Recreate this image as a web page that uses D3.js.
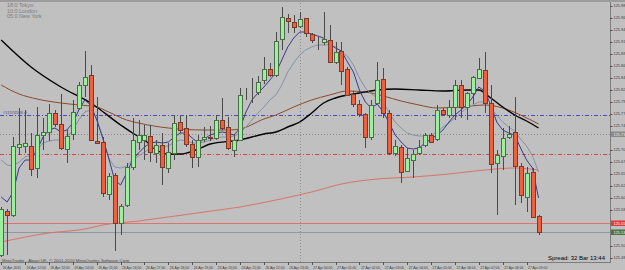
<!doctype html>
<html>
<head>
<meta charset="utf-8">
<script src="https://d3js.org/d3.v7.min.js"></script>
<style>
  body { margin: 0; background: #c0c0c0; }
  svg { display: block; font-family: "Liberation Sans", Arial, sans-serif; }
</style>
</head>
<body>
<svg width="625" height="270"></svg>
<script>
// M15 bars, 26 Apr 11:00 -> 27 Apr 09:30
const barOpen = [125.490,125.578,125.570,125.706,125.708,125.708,125.664,125.730,125.736,125.774,
  125.752,125.702,125.732,125.784,125.830,125.850,125.718,125.716,125.612,125.650,
  125.554,125.590,125.666,125.716,125.720,125.728,125.694,125.710,125.664,125.694,
  125.756,125.744,125.712,125.686,125.722,125.726,125.724,125.760,125.746,125.700,
  125.720,125.812,125.812,125.816,125.840,125.862,125.850,125.922,125.964,125.956,
  125.948,125.964,125.932,125.922,125.916,125.920,125.876,125.898,125.862,125.812,
  125.792,125.772,125.726,125.794,125.842,125.774,125.694,125.706,125.658,125.680,
  125.694,125.710,125.730,125.722,125.780,125.770,125.786,125.830,125.786,125.814,
  125.844,125.860,125.794,125.674,125.688,125.726,125.736,125.668,125.606,125.656,125.568];
const barHigh = [125.586,125.582,125.726,125.784,125.780,125.734,125.786,125.764,125.792,125.780,
  125.812,125.740,125.800,125.836,125.898,125.870,125.806,125.726,125.654,125.654,
  125.592,125.674,125.764,125.760,125.750,125.750,125.720,125.734,125.714,125.770,
  125.768,125.770,125.720,125.730,125.746,125.748,125.770,125.804,125.766,125.730,
  125.824,125.824,125.844,125.848,125.886,125.874,125.936,125.986,125.972,125.970,
  125.976,125.964,125.934,125.926,125.976,125.950,125.916,125.916,125.866,125.818,
  125.800,125.774,125.800,125.876,125.864,125.780,125.720,125.710,125.704,125.700,
  125.720,125.734,125.734,125.790,125.784,125.800,125.840,125.840,125.816,125.848,
  125.884,125.896,125.830,125.700,125.744,125.748,125.806,125.674,125.666,125.664,125.570];
const barLow = [125.486,125.490,125.566,125.690,125.694,125.648,125.644,125.700,125.718,125.746,
  125.700,125.674,125.720,125.780,125.806,125.718,125.712,125.606,125.600,125.498,
  125.530,125.586,125.660,125.700,125.680,125.676,125.674,125.630,125.654,125.680,
  125.734,125.706,125.664,125.666,125.716,125.718,125.720,125.740,125.700,125.686,
  125.718,125.800,125.794,125.810,125.832,125.846,125.846,125.900,125.934,125.934,
  125.944,125.926,125.914,125.900,125.910,125.874,125.872,125.830,125.808,125.786,
  125.766,125.704,125.720,125.790,125.764,125.690,125.688,125.634,125.656,125.644,
  125.690,125.706,125.714,125.718,125.768,125.764,125.760,125.764,125.760,125.792,
  125.842,125.774,125.654,125.570,125.660,125.722,125.590,125.594,125.576,125.564,125.530];
const barClose = [125.582,125.570,125.708,125.712,125.714,125.662,125.730,125.736,125.774,125.752,
  125.704,125.728,125.776,125.830,125.846,125.720,125.714,125.614,125.648,125.554,
  125.588,125.666,125.720,125.730,125.730,125.696,125.710,125.666,125.696,125.754,
  125.740,125.712,125.686,125.720,125.726,125.724,125.760,125.744,125.704,125.720,
  125.810,125.812,125.812,125.836,125.862,125.850,125.918,125.966,125.958,125.946,
  125.962,125.934,125.920,125.922,125.922,125.876,125.896,125.858,125.810,125.792,
  125.772,125.726,125.790,125.840,125.774,125.694,125.708,125.656,125.684,125.692,
  125.706,125.730,125.716,125.780,125.772,125.786,125.830,125.786,125.814,125.846,
  125.862,125.794,125.672,125.690,125.724,125.732,125.668,125.610,125.654,125.566,125.536];

// moving averages
const maFast = [125.606,125.596,125.616,125.664,125.680,125.680,125.700,125.726,125.740,125.744,
  125.736,125.740,125.754,125.780,125.800,125.790,125.760,125.724,125.684,125.640,
  125.630,125.654,125.680,125.694,125.706,125.714,125.716,125.714,125.716,125.726,
  125.734,125.734,125.724,125.714,125.722,125.730,125.734,125.736,125.734,125.730,
  125.744,125.776,125.800,125.814,125.826,125.840,125.854,125.880,125.906,125.924,
  125.936,125.936,125.932,125.928,125.924,125.912,125.904,125.898,125.876,125.856,
  125.820,125.796,125.784,125.792,125.776,125.754,125.730,125.716,125.704,125.702,
  125.704,125.714,125.722,125.730,125.740,125.756,125.770,125.780,125.790,125.806,
  125.826,125.818,125.790,125.756,125.740,125.734,125.730,125.704,125.680,125.664,125.604];
const maSlow = [125.680,125.670,125.668,125.676,125.686,125.690,125.700,125.714,125.718,125.720,
  125.720,125.726,125.740,125.760,125.776,125.780,125.764,125.726,125.684,125.666,
  125.664,125.668,125.680,125.688,125.696,125.704,125.706,125.706,125.708,125.716,
  125.720,125.718,125.714,125.714,125.716,125.720,125.724,125.726,125.726,125.728,
  125.734,125.746,125.760,125.774,125.786,125.800,125.810,125.830,125.856,125.874,
  125.890,125.900,125.906,125.910,125.910,125.910,125.906,125.896,125.888,125.870,
  125.844,125.824,125.812,125.804,125.796,125.774,125.756,125.744,125.734,125.730,
  125.728,125.728,125.730,125.736,125.746,125.754,125.764,125.774,125.784,125.790,
  125.796,125.796,125.784,125.770,125.756,125.746,125.738,125.722,125.708,125.688,125.656];
// [bar, price]
const maBlack = [[0,125.920],[5,125.866],[10,125.826],[15,125.794],[20,125.750],[22,125.734],
  [24,125.720],[26,125.700],[28,125.692],[30,125.692],[33,125.702],[35,125.712],[40,125.720],
  [44,125.732],[46,125.736],[48,125.746],[50,125.756],[52,125.774],[54,125.794],[56,125.804],
  [58,125.810],[60,125.814],[63,125.820],[66,125.822],[70,125.820],[74,125.818],[78,125.820],
  [80,125.820],[82,125.804],[84,125.786],[86,125.770],[88,125.758],[90,125.744]];
const maBrown = [[0,125.830],[3,125.812],[6,125.802],[10,125.794],[13,125.790],[16,125.786],
  [18,125.776],[21,125.760],[23,125.754],[28,125.744],[34,125.740],[38,125.740],[40,125.742],
  [44,125.762],[46,125.770],[49,125.786],[52,125.800],[55,125.810],[58,125.818],[61,125.816],
  [64,125.808],[67,125.798],[70,125.790],[73,125.784],[77,125.786],[81,125.790],[84,125.784],
  [87,125.770],[90,125.752]];
const maPink = [[0,125.516],[8,125.534],[14,125.542],[17,125.550],[23,125.558],[28,125.566],
  [34,125.576],[40,125.586],[46,125.600],[52,125.616],[57,125.632],[63,125.642],[69,125.646],
  [75,125.652],[81,125.660],[86,125.664],[90,125.660]];

const priceLabels = [125.988,125.964,125.940,125.916,125.892,125.868,125.844,125.820,125.796,125.772,
  125.748,125.724,125.700,125.676,125.652,125.628,125.604,125.580,125.556,125.532,125.508,125.484];
const timeLabels = ["26 Apr 2015","26 Apr 12:00","26 Apr 13:00","26 Apr 14:00","26 Apr 15:00",
  "26 Apr 16:00","26 Apr 17:00","26 Apr 18:00","26 Apr 19:00","26 Apr 20:00","26 Apr 21:00",
  "26 Apr 22:00","26 Apr 23:00","27 Apr 00:00","27 Apr 01:00","27 Apr 02:00","27 Apr 03:00",
  "27 Apr 04:00","27 Apr 05:00","27 Apr 06:00","27 Apr 07:00","27 Apr 08:00","27 Apr 09:00"];
const sessions = ["18:0 Tokyo:", "10:0 London:", "05:0 New York"];

const slLevel = 125.770, dotLevel = 125.732, redDashLevel = 125.692, redLevel = 125.554, bidLevel = 125.536;

const svg = d3.select('svg');
const plotR = 610, plotB = 262;
const x = d3.scaleLinear().domain([0, 90]).range([1.2, 538.5]);
const y = d3.scaleLinear().domain([125.476, 126]).range([plotB, 0]);

svg.append('rect').attr('width', 625).attr('height', 270).attr('fill', '#c0c0c0');
svg.append('rect').attr('width', 625).attr('height', 2).attr('fill', '#9c9c9c');

svg.append('defs').append('clipPath').attr('id', 'plot')
  .append('rect').attr('x', 0).attr('y', 2).attr('width', plotR).attr('height', plotB - 2);
const g = svg.append('g').attr('clip-path', 'url(#plot)');

// horizontal levels
function hline(p, col, dash, w) {
  g.append('line').attr('x1', 0).attr('x2', plotR)
    .attr('y1', Math.round(y(p)) + 0.5).attr('y2', Math.round(y(p)) + 0.5)
    .attr('stroke', col).attr('stroke-width', w || 1).attr('stroke-dasharray', dash);
}
hline(slLevel, '#4a4ac8', '4,2,1,2');
hline(dotLevel, '#8a8a8a', '1,2');
hline(redDashLevel, '#d04848', '4,2,1,2');
hline(redLevel, '#e07272', null);
hline(bidLevel, '#8c98a4', null);
g.append('line').attr('x1', Math.round(x(50)) + 0.5).attr('x2', Math.round(x(50)) + 0.5)
  .attr('y1', 0).attr('y2', plotB).attr('stroke', '#8e8e8e').attr('stroke-dasharray', '1,2');

g.append('text').attr('x', 3).attr('y', y(slLevel) - 1.5).attr('font-size', 4)
  .attr('fill', '#4a4a7a').text('#11574588 sl');

// moving averages
const lineIdx = d3.line().x((d, i) => x(i)).y(d => y(d));
const linePts = d3.line().x(d => x(d[0])).y(d => y(d[1])).curve(d3.curveMonotoneX);
g.append('path').attr('d', linePts(maPink)).attr('fill', 'none').attr('stroke', '#d87468').attr('stroke-width', 1);
g.append('path').attr('d', linePts(maBrown)).attr('fill', 'none').attr('stroke', '#8a4a28').attr('stroke-width', 1);
g.append('path').attr('d', linePts(maBlack)).attr('fill', 'none').attr('stroke', '#000').attr('stroke-width', 1.4);
g.append('path').attr('d', lineIdx(maSlow)).attr('fill', 'none').attr('stroke', '#8492a4').attr('stroke-width', 1);
g.append('path').attr('d', lineIdx(maFast)).attr('fill', 'none').attr('stroke', '#3a3a8c').attr('stroke-width', 1);

// candles
const bars = d3.range(barOpen.length);
const cg = g.append('g');
cg.selectAll('line.wick').data(bars).join('line').attr('class', 'wick')
  .attr('x1', i => Math.round(x(i)) + 0.5).attr('x2', i => Math.round(x(i)) + 0.5)
  .attr('y1', i => y(barHigh[i])).attr('y2', i => y(barLow[i]))
  .attr('stroke', '#4a4a4a').attr('stroke-width', 1);
cg.selectAll('rect.body').data(bars).join('rect').attr('class', 'body')
  .attr('x', i => Math.round(x(i)) - 1.5)
  .attr('y', i => Math.round(y(Math.max(barOpen[i], barClose[i]))) + 0.5)
  .attr('width', 4)
  .attr('height', i => Math.max(0, Math.round(y(Math.min(barOpen[i], barClose[i]))) - Math.round(y(Math.max(barOpen[i], barClose[i])))))
  .attr('fill', i => barClose[i] >= barOpen[i] ? '#9cef9c' : '#f0603c')
  .attr('stroke', i => barClose[i] >= barOpen[i] ? '#4c6c4c' : '#7a3a2a')
  .attr('stroke-width', 1);

// session texts
svg.selectAll('text.sess').data(sessions).join('text').attr('class', 'sess')
  .attr('x', 7).attr('y', (d, i) => 7 + i * 5.5).attr('font-size', 5.4).attr('fill', '#7c7c7c').text(d => d);

svg.append('text').attr('x', 2).attr('y', 261.5).attr('font-size', 4.4).attr('fill', '#4a4a4a')
  .text('MetaTrader - Alpari UK, \u00a9 2001-2010 MetaQuotes Software Corp.');
svg.append('text').attr('x', 605).attr('y', 260).attr('text-anchor', 'end').attr('font-size', 6)
  .attr('fill', '#000').text('Spread: 32 Bar 13:44');

// axes frame
svg.append('line').attr('x1', plotR + 0.5).attr('x2', plotR + 0.5).attr('y1', 2).attr('y2', plotB + 1)
  .attr('stroke', '#7c7c7c');
svg.append('line').attr('x1', 0).attr('x2', plotR + 1).attr('y1', plotB + 0.5).attr('y2', plotB + 0.5)
  .attr('stroke', '#7c7c7c');

// price axis (labels hidden under the level boxes are skipped)
const boxLevels = [dotLevel, redLevel, bidLevel];
const shownLabels = priceLabels.filter(p => boxLevels.every(b => Math.abs(y(p) - y(b)) > 5));
const pa = svg.append('g');
pa.selectAll('line').data(shownLabels).join('line')
  .attr('x1', plotR).attr('x2', plotR + 2.5)
  .attr('y1', d => Math.round(y(d)) + 0.5).attr('y2', d => Math.round(y(d)) + 0.5).attr('stroke', '#555');
pa.selectAll('text').data(shownLabels).join('text')
  .attr('x', plotR + 3.5).attr('y', d => y(d) + 1.4).attr('font-size', 3.9).attr('fill', '#3c3c3c')
  .text(d => d.toFixed(3));

function priceBox(p, bg, fg) {
  const yy = Math.round(y(p));
  svg.append('rect').attr('x', plotR + 1).attr('y', yy - 2.5).attr('width', 20).attr('height', 5.5).attr('fill', bg);
  svg.append('text').attr('x', plotR + 3.5).attr('y', yy + 1.6).attr('font-size', 3.9).attr('fill', fg).text(p.toFixed(3));
}
priceBox(dotLevel, '#8a8a8a', '#e8e8e8');
priceBox(redLevel, '#e03a3a', '#fff');
priceBox(bidLevel, '#50704c', '#e8ffe8');

// time axis
const ta = svg.append('g');
ta.selectAll('line').data(timeLabels).join('line')
  .attr('x1', (d, k) => Math.round(x(k * 4)) + 0.5).attr('x2', (d, k) => Math.round(x(k * 4)) + 0.5)
  .attr('y1', plotB).attr('y2', plotB + 3).attr('stroke', '#555');
ta.selectAll('text').data(timeLabels).join('text')
  .attr('x', (d, k) => x(k * 4) + 1.5).attr('y', 268.5).attr('font-size', 3.4).attr('fill', '#3c3c3c')
  .text(d => d);
</script>
</body>
</html>
